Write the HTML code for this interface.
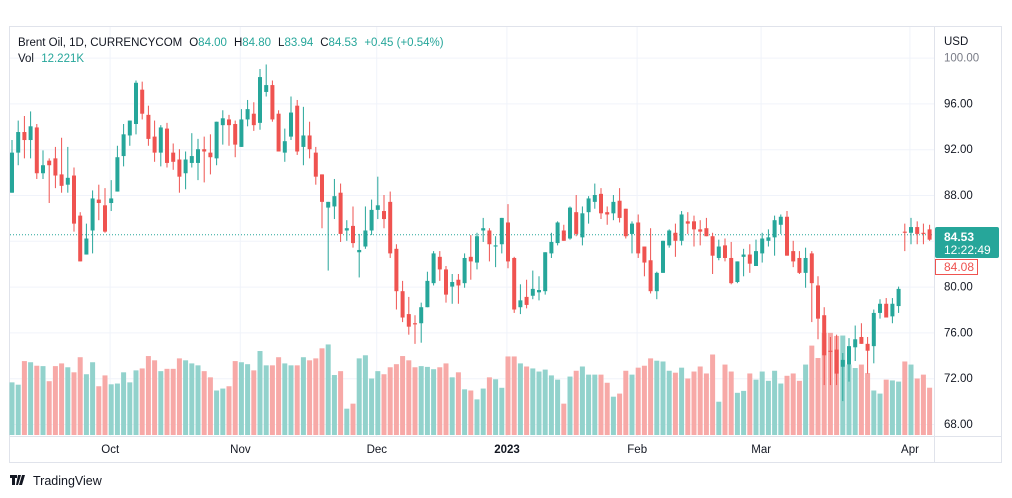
<!DOCTYPE html>
<html><head><meta charset="utf-8"><style>
html,body{margin:0;padding:0;background:#fff;width:1012px;height:498px;overflow:hidden;font-family:"Liberation Sans",sans-serif}
svg text{font-family:"Liberation Sans",sans-serif}
</style></head><body>
<svg id="chart" width="1012" height="498" viewBox="0 0 1012 498" xmlns="http://www.w3.org/2000/svg">
<rect x="9.5" y="26.5" width="992" height="436" fill="#fff" stroke="#e0e3eb"/>
<g id="grid"></g>
<g id="vol"></g>
<g id="candles"></g>
<line x1="934.5" y1="27" x2="934.5" y2="462" stroke="#e0e3eb"/>
<line x1="10" y1="436.5" x2="1001" y2="436.5" stroke="#e0e3eb"/>
<g id="yticks"></g>
<g id="xticks"></g>
<text x="944" y="45" font-size="11.5" fill="#131722">USD</text>
<g font-size="11.5">
<text x="18" y="46" fill="#131722">Brent Oil, 1D, CURRENCYCOM<tspan dx="7">O</tspan><tspan fill="#26a69a">84.00</tspan><tspan dx="7">H</tspan><tspan fill="#26a69a">84.80</tspan><tspan dx="7">L</tspan><tspan fill="#26a69a">83.94</tspan><tspan dx="7">C</tspan><tspan fill="#26a69a">84.53</tspan><tspan dx="7" fill="#26a69a">+0.45 (+0.54%)</tspan></text>
<text x="18" y="62" fill="#131722">Vol <tspan dx="4" fill="#26a69a">12.221K</tspan></text>
</g>
<g>
<rect x="935" y="227" width="64" height="31" rx="2" fill="#26a69a"/>
<text x="944" y="241" font-size="12" font-weight="bold" fill="#fff">84.53</text>
<text x="944" y="254" font-size="12" fill="#fff">12:22:49</text>
</g>
<g>
<rect x="935.5" y="259.5" width="42" height="15" fill="#fff" stroke="#ef5350"/>
<text x="944" y="271" font-size="12" fill="#ef5350">84.08</text>
</g>
<g>
<path d="M10 475h7v3h-2v7h-3v-7h-2z M18 475h3l-3 10h-2z M22 475h3l-3 10h-3z" fill="#131722"/>
<text x="33" y="485" font-size="12.5" fill="#131722">TradingView</text>
</g>
</svg>
<script>
const opens=[88.2,91.7,93.5,92.8,93.9,89.9,91.0,91.2,89.8,88.9,89.7,86.2,82.8,84.9,87.6,87.1,87.3,88.3,91.4,93.2,94.2,97.2,95.0,93.1,91.7,93.8,91.7,91.1,89.9,90.8,90.8,92.0,91.7,91.2,94.1,94.6,94.2,92.2,94.6,95.1,94.3,97.0,97.6,95.1,91.7,93.1,95.8,92.2,93.2,91.7,89.8,86.9,87.0,88.2,84.9,85.3,83.0,83.5,84.9,86.7,86.6,87.4,83.3,79.6,77.6,76.8,76.8,78.2,80.3,82.6,81.5,80.0,80.6,80.3,82.6,82.1,84.9,84.9,83.5,83.7,85.6,82.5,78.2,79.1,79.2,79.5,79.6,82.9,83.8,84.9,84.2,86.5,84.3,86.5,87.4,88.1,86.5,86.4,87.5,86.8,84.6,85.6,83.5,82.3,79.6,81.2,83.6,84.7,84.0,85.7,85.7,85.0,85.1,84.4,82.5,83.6,82.5,80.4,82.6,82.8,81.8,82.9,84.0,84.3,85.4,86.1,83.1,82.5,81.2,82.9,80.1,77.5,74.4,74.5,73.0,73.2,74.7,75.6,75.0,74.8,77.7,78.5,77.4,78.3,84.8,84.7,85.2,84.7,85.0];
const highs=[92.8,94.5,94.9,95.3,94.2,91.9,91.2,92.2,93.0,92.2,90.4,86.5,85.5,88.4,88.9,88.6,89.3,92.3,94.2,94.5,98.0,97.9,95.8,94.5,94.1,94.3,92.5,92.0,91.8,93.4,92.9,93.1,93.3,94.4,95.4,95.0,94.5,95.5,96.3,96.1,99.0,99.4,98.0,95.4,93.8,96.6,96.3,95.7,94.4,92.2,89.8,87.4,89.4,89.0,85.8,87.0,84.6,87.0,87.6,89.6,88.0,88.3,83.7,80.5,79.1,77.5,78.6,81.3,83.1,83.1,81.8,81.1,81.1,82.9,84.5,84.7,86.0,85.1,84.4,86.0,87.2,82.6,80.2,80.6,81.4,80.9,83.0,84.7,85.7,85.4,87.0,88.0,87.0,87.9,89.0,88.6,87.0,88.0,88.6,86.8,85.7,86.3,83.5,85.1,81.3,84.0,85.0,85.5,86.6,86.5,86.2,85.8,86.0,84.7,84.1,84.2,83.9,82.2,83.3,83.7,84.1,84.7,85.0,86.2,86.3,86.6,84.0,83.1,83.4,83.1,80.9,78.2,75.6,75.8,74.2,75.5,76.6,76.8,75.6,78.0,78.9,79.0,79.0,80.0,85.5,86.0,85.7,85.5,85.4];
const lows=[88.2,90.6,91.2,91.2,89.4,89.4,87.3,88.6,88.2,88.2,84.8,82.2,82.8,82.9,85.8,84.7,86.6,88.3,90.5,92.3,93.3,94.6,92.3,90.9,90.5,90.4,90.2,88.2,88.5,90.4,89.3,89.1,89.8,90.6,92.4,92.3,91.3,92.2,94.0,93.6,93.7,96.6,94.4,91.8,90.9,92.8,91.5,90.6,91.2,88.9,85.1,81.4,85.9,83.9,84.0,83.4,80.8,83.3,84.5,85.9,85.1,82.5,78.0,76.9,75.8,75.0,75.1,78.2,80.1,80.5,78.6,78.5,78.5,79.9,80.6,81.5,83.9,82.2,81.7,82.9,81.6,77.7,77.6,78.1,78.9,78.8,79.3,82.5,83.6,84.0,84.1,84.4,83.6,85.5,86.8,85.9,85.4,85.8,85.6,84.2,82.9,82.5,80.9,79.4,78.9,81.2,83.4,82.6,83.6,84.6,83.5,83.6,84.4,81.1,82.3,82.2,80.2,80.3,80.9,81.2,81.8,82.1,83.5,82.7,84.6,82.7,81.7,81.1,79.9,76.9,75.4,71.4,71.4,71.4,70.0,71.7,73.5,75.0,72.4,73.3,77.2,77.3,76.8,77.7,83.1,83.7,83.7,83.7,84.0];
const closes=[91.7,93.5,92.8,94.0,89.9,90.6,90.6,89.7,88.8,89.5,85.5,82.2,84.2,87.7,87.3,84.8,87.7,91.3,93.3,94.5,97.8,95.1,92.9,91.7,93.9,90.8,90.9,89.6,91.1,91.4,92.0,91.8,91.3,94.4,94.7,94.1,92.4,94.6,95.5,94.1,98.3,97.6,94.6,91.8,92.7,95.2,91.8,93.2,92.0,89.6,87.4,87.4,87.9,84.6,85.1,83.8,83.2,84.9,86.7,87.1,85.9,82.9,79.6,77.3,76.5,76.7,78.2,80.5,82.9,81.5,79.3,80.4,80.1,82.5,82.2,84.4,85.1,83.7,83.6,86.0,82.2,78.0,78.8,78.4,79.8,79.7,83.0,83.9,85.6,84.0,86.9,84.6,86.4,87.7,88.0,86.4,86.3,87.4,86.0,84.4,85.5,82.9,82.1,79.6,81.2,84.0,84.9,84.0,86.3,85.5,85.0,84.8,84.4,82.7,83.5,82.5,80.3,82.2,82.8,82.0,83.1,84.2,84.3,85.8,86.1,82.7,82.2,81.2,82.5,80.3,77.2,74.0,74.3,72.4,73.6,74.8,75.4,75.0,74.4,77.7,78.5,77.3,78.5,79.8,84.7,85.2,84.6,84.6,84.1];
const volumes=[13.6,13.0,19.1,18.8,17.9,17.8,13.9,17.8,18.5,17.5,16.2,20.1,15.7,18.8,12.6,15.4,13.1,13.3,16.2,13.6,16.7,17.2,20.4,19.3,16.5,17.1,17.1,19.8,19.3,18.5,18.0,16.5,14.9,11.5,12.0,12.6,19.1,18.8,18.3,16.7,21.7,18.0,18.0,20.1,18.5,18.0,18.0,20.1,19.3,19.8,22.4,23.4,15.5,16.5,6.8,8.1,19.8,20.6,14.6,16.5,15.7,17.5,18.3,20.4,19.3,17.5,17.8,17.6,17.0,17.5,18.5,14.9,16.2,11.8,11.5,9.2,12.0,14.9,14.4,12.2,20.3,20.3,18.5,17.7,17.2,16.4,16.9,15.4,14.3,8.1,15.1,16.6,17.7,15.6,15.6,15.6,13.5,9.9,10.7,16.6,15.6,17.4,17.9,19.8,19.2,19.0,16.6,16.1,17.4,14.6,16.4,17.7,15.9,20.8,8.6,18.2,16.4,10.9,11.4,15.9,14.3,16.4,14.0,16.6,13.3,15.3,15.9,14.0,18.2,23.1,19.9,26.4,26.4,25.6,25.7,18.2,17.3,18.2,16.0,11.5,10.7,14.3,14.1,13.8,19.0,18.2,14.6,15.6,12.221];
const priceTicks=[100,96,92,88,80,76,72,68];
const priceTickLabels=["100.00","96.00","92.00","88.00","80.00","76.00","72.00","68.00"];
const gridPrices=[100,96,92,88,84,80,76,72,68];
const monthIdx=[16,37,59,80,101,121,145];
const monthLabels=["Oct","Nov","Dec","2023","Feb","Mar","Apr"];
const lastPrice=84.53;

const NS="http://www.w3.org/2000/svg";
const xS=i=>12+i*6.2;
const yS=p=>424-(p-68)*11.45;
const vS=v=>435-v*3.87;
function mk(tag,attrs,parent){const e=document.createElementNS(NS,tag);for(const k in attrs)e.setAttribute(k,attrs[k]);parent.appendChild(e);return e;}
const grid=document.getElementById('grid');
gridPrices.forEach(p=>{const l=mk('line',{x1:10,x2:934,y1:yS(p)+0.5,y2:yS(p)+0.5,stroke:'#f0f3fa'},grid);

});
monthIdx.forEach(i=>{const l=mk('line',{x1:xS(i)-1.1,x2:xS(i)-1.1,y1:27,y2:436,stroke:'#f0f3fa'},grid);

});
const yt=document.getElementById('yticks');
priceTicks.forEach((p,k)=>{const t=mk('text',{x:944,y:yS(p)+4,'font-size':11.5,fill:p===100?'#787b86':'#131722'},yt);t.textContent=priceTickLabels[k];

});
const xt=document.getElementById('xticks');
monthLabels.forEach((m,k)=>{const t=mk('text',{x:xS(monthIdx[k])-1,y:453,'font-size':11.5,'text-anchor':'middle',fill:'#131722','font-weight':m==='2023'?'bold':'normal'},xt);t.textContent=m;

});
const vg=document.getElementById('vol');
volumes.forEach((v,i)=>{const up=closes[i]>=opens[i];const r=mk('rect',{x:xS(i)-2.5,y:vS(v),width:5,height:435-vS(v),fill:up?'#92d2cc':'#f7a9a7'},vg);

});
const cg=document.getElementById('candles');
const pl=mk('line',{x1:10,x2:934,y1:yS(lastPrice),y2:yS(lastPrice),stroke:'#26a69a','stroke-dasharray':'1 2'},cg);


opens.forEach((o,i)=>{const c=closes[i];const up=c>=o;const col=up?'#26a69a':'#ef5350';const x=xS(i);
const g=mk('g',{},cg);


mk('line',{x1:x,x2:x,y1:yS(highs[i]),y2:yS(lows[i]),stroke:col,'stroke-width':1},g);
const top=yS(Math.max(o,c)),bot=yS(Math.min(o,c));
mk('rect',{x:x-2,y:top,width:4,height:Math.max(1,bot-top),fill:col},g);});
</script>
</body></html>
